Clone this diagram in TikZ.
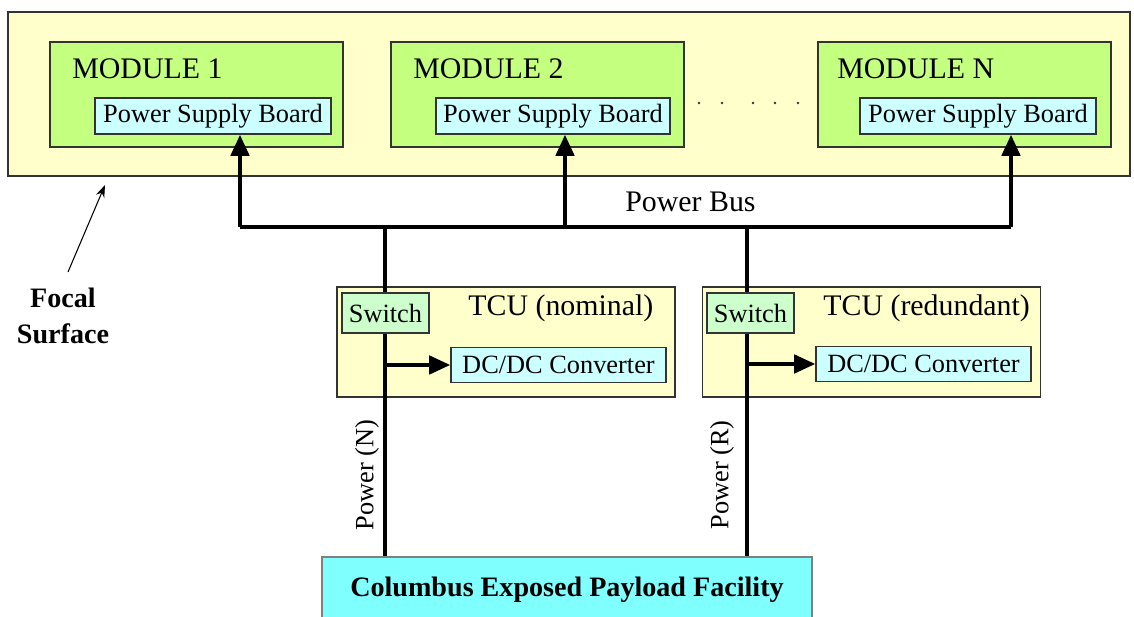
\documentclass[tikz,border=0pt]{standalone}
\usepackage{fontspec}
\setmainfont{Liberation Serif}
\usetikzlibrary{arrows.meta, positioning, calc}
\definecolor{paleyellow}{RGB}{255,255,204}
\definecolor{modgreen}{RGB}{196,255,128}
\definecolor{boardblue}{RGB}{204,255,255}
\definecolor{switchgreen}{RGB}{204,255,204}
\definecolor{facilitycyan}{RGB}{128,255,255}
\tikzset{
    box/.style={draw=black!80, line width=0.9pt, inner sep=0pt},
    board/.style={box, fill=boardblue, font=\fontsize{15}{18}\selectfont},
    tcubox/.style={box, fill=paleyellow, minimum width=6.76cm, minimum height=2.2cm},
    switchbox/.style={box, fill=switchgreen, minimum width=1.74cm, minimum height=0.8cm, font=\fontsize{15}{18}\selectfont},
    modbox/.style={box, fill=modgreen, minimum width=5.86cm, minimum height=2.1cm},
    title/.style={anchor=base west, inner sep=0pt, font=\fontsize{17}{20}\selectfont},
    bus/.style={line width=2pt},
    feed/.style={bus, -{Triangle[length=12pt,width=10.5pt]}}
}

\begin{document}
\begin{tikzpicture}[x=0.02cm, y=-0.02cm]
    \useasboundingbox (0,0) rectangle (1134,617);
    % Focal surface with the modules
    \node[box, fill=paleyellow, minimum width=22.44cm, minimum height=3.28cm] (focal) at (569,94) {};
    \node[modbox] (mod1) at (196.5,94.5) {};
    \node[modbox] (mod2) at (537.5,94.5) {};
    \node[modbox] (modN) at (964.5,94.5) {};
    \node[title] at (72,79) {MODULE 1};
    \node[title] at (413,79) {MODULE 2};
    \node[title] at (837,79) {MODULE N};
    \node[board, minimum width=4.72cm, minimum height=0.72cm] (psb1) at (213,116) {Power Supply Board};
    \node[board, minimum width=4.68cm, minimum height=0.72cm] (psb2) at (553,116) {Power Supply Board};
    \node[board, minimum width=4.72cm, minimum height=0.72cm] (psbN) at (978,116) {Power Supply Board};
    \foreach \x in {699,722,753,775,798}
        \fill[black!80] (\x,103) circle (0.8pt);
    % Label of the focal surface
    \node[align=center, font=\bfseries\fontsize{16}{20.4}\selectfont] (fslbl) at (63,316) {Focal\\Surface};
    \coordinate (fsTail) at (68,272);
    \coordinate (fsTip) at (105,185);
    \draw[line width=0.6pt, -{Stealth[length=7pt,width=5pt]}] (fsTail) -- (fsTip);
    % TCUs
    \node[tcubox] (tcuN) at (506,342) {};
    \node[tcubox] (tcuR) at (871.5,342) {};
    \node[title] at (468,316) {TCU (nominal)};
    \node[title] at (823,316) {TCU (redundant)};
    \node[board, minimum width=4.3cm, minimum height=0.7cm] (dcN) at (558.5,365) {DC/DC Converter};
    \node[board, minimum width=4.3cm, minimum height=0.7cm] (dcR) at (923.5,364) {DC/DC Converter};
    % Columbus facility
    \node[box, draw=black!50, fill=facilitycyan, minimum width=9.8cm, minimum height=1.3cm,
          font=\bfseries\fontsize{16}{19}\selectfont] (cepf) at (567,589.5) {Columbus Exposed Payload Facility};
    % Power bus
    \coordinate (b1) at (240,227);
    \coordinate (b2) at (565,227);
    \coordinate (bN) at (1011,227);
    \coordinate (tN) at (385,227);
    \coordinate (tR) at (747,227);
    \draw[bus] (b1) -- (bN);
    \draw[feed] (b1) -- (b1 |- psb1.south);
    \draw[feed] (b2) -- (b2 |- psb2.south);
    \draw[feed] (bN) -- (bN |- psbN.south);
    \node[title] at (625,212) {Power Bus};
    % Feed lines through the TCUs
    \draw[bus] (tN) -- (tN |- cepf.north);
    \draw[bus] (tR) -- (tR |- cepf.north);
    \draw[feed] (tN |- dcN.west) -- (dcN.west);
    \draw[feed] (tR |- dcR.west) -- (dcR.west);
    \node[switchbox] (swN) at (385.5,313) {Switch};
    \node[switchbox] (swR) at (750.5,313) {Switch};
    \node[rotate=90, font=\fontsize{15}{18}\selectfont] (pwrN) at (367,475) {Power (N)};
    \node[rotate=90, font=\fontsize{15}{18}\selectfont] (pwrR) at (722,475) {Power (R)};
\end{tikzpicture}
\end{document}
